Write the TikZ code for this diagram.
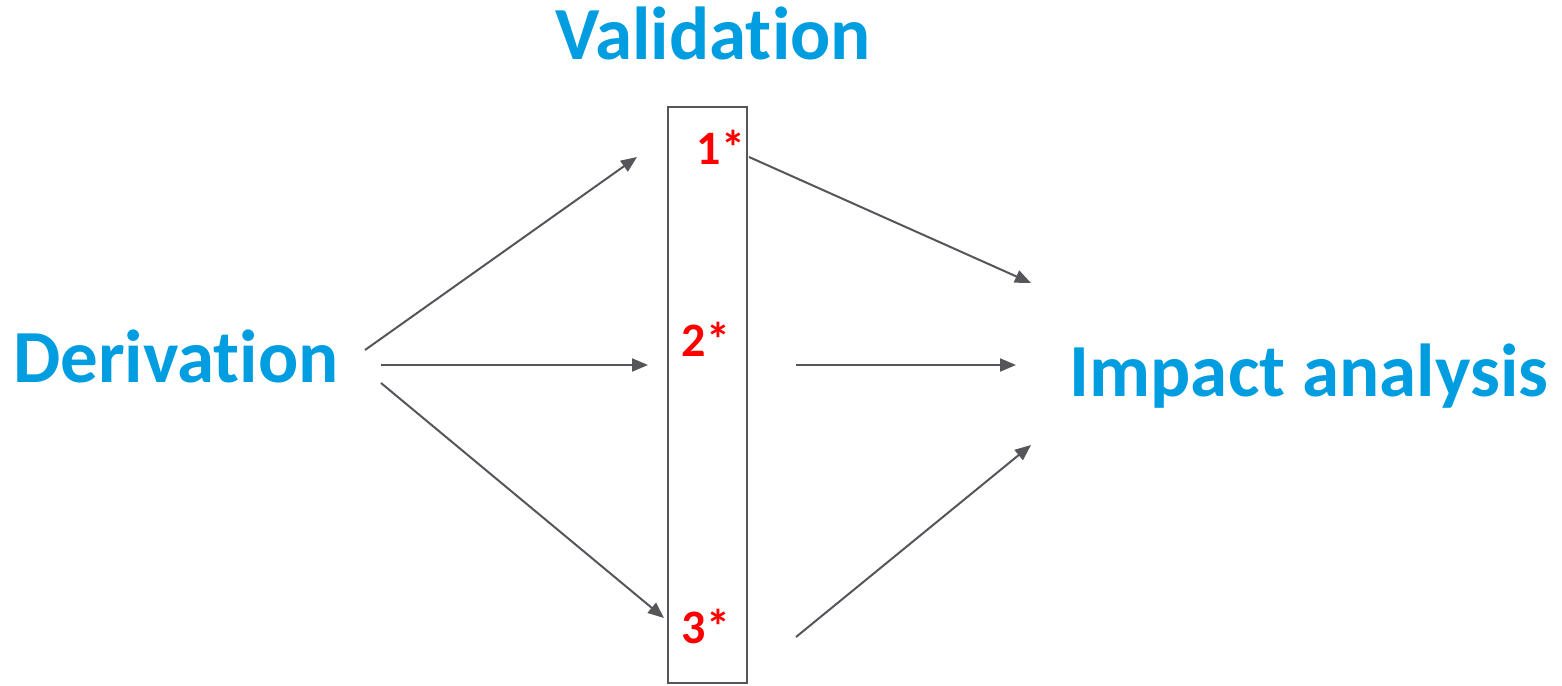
\documentclass[tikz,border=0pt]{standalone}
\usepackage{fontspec}
\setmainfont[Ligatures=CommonOff]{Carlito}
\usetikzlibrary{arrows.meta}
\definecolor{tblue}{RGB}{0,158,224}
\definecolor{tgray}{RGB}{85,86,90}
\definecolor{tred}{RGB}{255,0,0}
\begin{document}
\begin{tikzpicture}[x=1pt,y=1pt,
  lbl/.style={font=\fontsize{75}{78}\bfseries\selectfont, text=tblue, inner sep=0pt, anchor=base},
  num/.style={font=\fontsize{48}{50}\bfseries\selectfont, text=tred, inner sep=0pt, anchor=base},
  arr/.style={draw=tgray, line width=2pt, -{Triangle[length=16pt,width=13pt]}}]
\useasboundingbox (0,0) rectangle (1562,685);
\node[lbl] (der) at (176,302) {Derivation};
\node[lbl] (val) at (713,625) {Validation};
\node[lbl] (imp) at (1309,288) {Impact analysis};
\node[draw=tgray, line width=2pt, minimum width=79pt, minimum height=576pt, inner sep=0pt, anchor=south west] (box) at (667,1) {};
\node[num] (n1) at (721,520) {1*};
\node[num] (n2) at (706,328) {2*};
\node[num] (n3) at (706,42) {3*};
\coordinate (a1s) at (365,335);
\coordinate (a1e) at (637,528);
\coordinate (a2s) at (381,320);
\coordinate (a2e) at (648,320);
\coordinate (a3s) at (381,302);
\coordinate (a3e) at (664,67);
\coordinate (b1s) at (749,528);
\coordinate (b1e) at (1031,402);
\coordinate (b2s) at (796,320);
\coordinate (b2e) at (1016,320);
\coordinate (b3s) at (796,48);
\coordinate (b3e) at (1031,240);
\draw[arr] (a1s) -- (a1e);
\draw[arr] (a2s) -- (a2e);
\draw[arr] (a3s) -- (a3e);
\draw[arr] (b1s) -- (b1e);
\draw[arr] (b2s) -- (b2e);
\draw[arr] (b3s) -- (b3e);
\end{tikzpicture}
\end{document}
